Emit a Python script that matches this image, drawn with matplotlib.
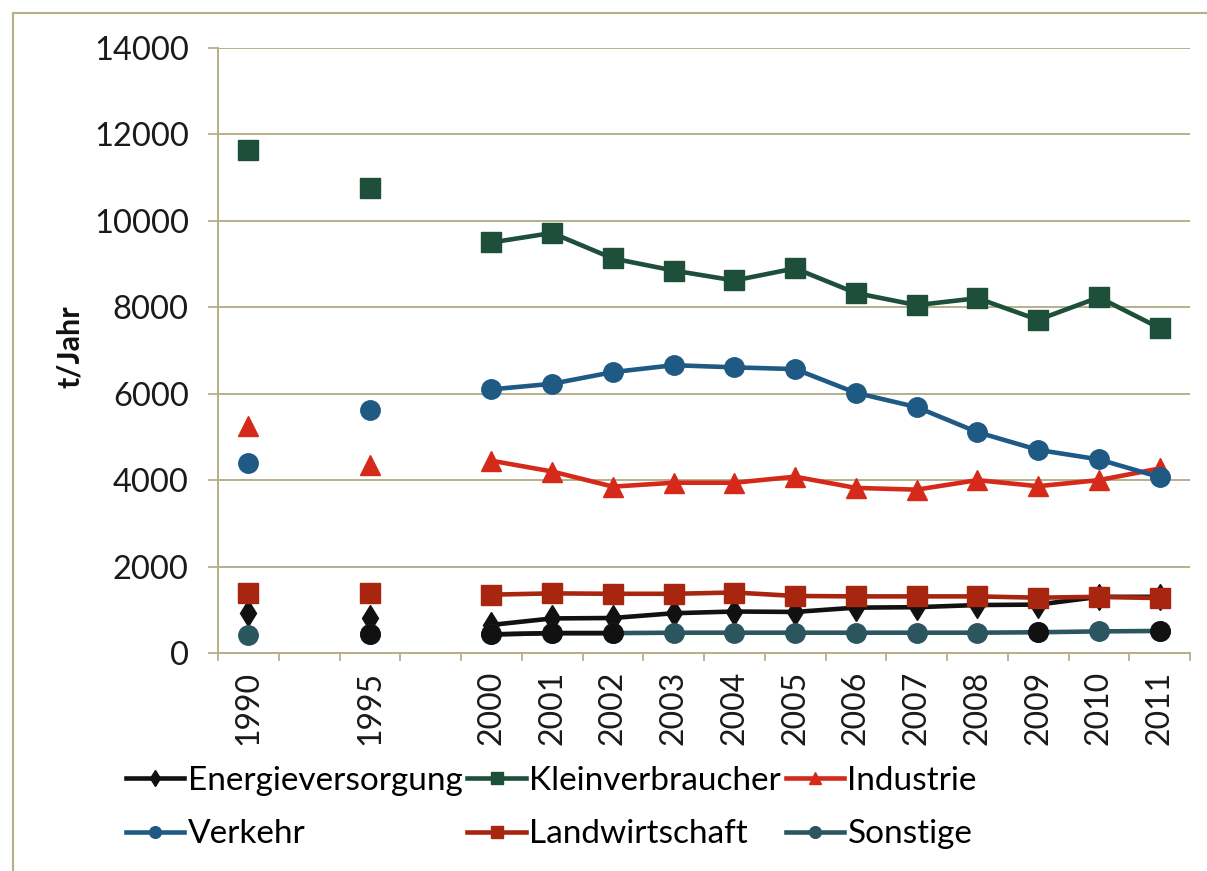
import matplotlib
matplotlib.use('Agg')
import matplotlib.pyplot as plt
import numpy as np
from matplotlib.patches import Rectangle

nan = np.nan

# categories (blank slots keep the gaps between 1990, 1995 and 2000)
years = ['1990', '', '1995', '', '2000', '2001', '2002', '2003', '2004',
         '2005', '2006', '2007', '2008', '2009', '2010', '2011']

energie = [920, nan, 820, nan, 650, 800, 810, 920, 960, 950, 1050, 1060, 1110, 1120, 1300, 1300]
kleinverbraucher = [11650, nan, 10750, nan, 9500, 9720, 9130, 8850, 8620, 8900, 8330, 8050, 8210, 7710, 8230, 7520]
industrie = [5250, nan, 4350, nan, 4450, 4200, 3850, 3940, 3940, 4080, 3820, 3780, 4000, 3860, 4000, 4270]
verkehr = [4400, nan, 5620, nan, 6100, 6230, 6500, 6660, 6610, 6570, 6020, 5690, 5110, 4700, 4480, 4070]
landwirtschaft = [1400, nan, 1400, nan, 1350, 1380, 1370, 1370, 1400, 1320, 1310, 1310, 1310, 1280, 1300, 1270]
sonstige = [410, nan, 430, nan, 430, 460, 460, 470, 470, 470, 470, 470, 470, 480, 500, 510]
# points of Sonstige that show up black in the original
sonstige_dark = [nan, nan, 430, nan, 430, 460, 460, nan, nan, nan, nan, nan, nan, 480, nan, 510]

plt.rcParams['font.family'] = ['Lato', 'DejaVu Sans']

olive = '#b5b08a'

fig = plt.figure(figsize=(12.07, 8.71), dpi=100)
ax = fig.add_axes([218 / 1207, 1 - 653 / 871, (1190 - 218) / 1207, (653 - 48) / 871])

x = np.arange(len(years))

series = [
    ('Energieversorgung', energie, '#111111', 'd', 13),
    ('Kleinverbraucher', kleinverbraucher, '#1d4f3b', 's', 14),
    ('Industrie', industrie, '#d52a1a', '^', 14),
    ('Verkehr', verkehr, '#1f5a84', 'o', 14),
    ('Landwirtschaft', landwirtschaft, '#a8250f', 's', 14),
    ('Sonstige', sonstige, '#2b5660', 'o', 14),
]

handles = {}
for name, vals, col, mk, ms in series:
    h, = ax.plot(x, vals, color=col, lw=3.3, marker=mk, markersize=ms,
                 markeredgecolor=col, label=name)
    handles[name] = h

ax.plot(x, sonstige_dark, color='#111111', lw=3.3, marker='o', markersize=14)

ax.set_xlim(-0.5, len(years) - 0.5)
ax.set_ylim(0, 14000)
ax.set_yticks(range(0, 14001, 2000))
ax.set_yticklabels([str(v) for v in range(0, 14001, 2000)])
ax.set_xticks(x)
ax.set_xticklabels(years, rotation=90)
ax.set_xticks(np.arange(-0.5, len(years), 1), minor=True)

ax.tick_params(axis='y', labelsize=23.5, length=7, color=olive, width=1.3, pad=14, labelcolor='#1a1a1a')
ax.tick_params(axis='x', which='major', labelsize=23, length=0, pad=13, labelcolor='#1a1a1a')
ax.tick_params(axis='x', which='minor', length=6, color=olive, width=1.3)

ax.grid(True, axis='y', color=olive, lw=1.4)
ax.set_axisbelow(True)
for s in ['top', 'right']:
    ax.spines[s].set_visible(False)
for s in ['left', 'bottom']:
    ax.spines[s].set_color(olive)
    ax.spines[s].set_linewidth(1.4)

fig.text(70 / 1207, 1 - 347 / 871, 't/Jahr', rotation=90, ha='center', va='center',
         fontsize=22, fontweight='bold', color='#111111')

# chart area border (cut off at the right and bottom in the scan)
fig.patches.append(Rectangle((13 / 1207, -0.05), 1.2, 1 - 13 / 871 + 0.05,
                             transform=fig.transFigure, fill=False,
                             edgecolor=olive, lw=1.5))

order = ['Energieversorgung', 'Verkehr', 'Kleinverbraucher', 'Landwirtschaft',
         'Industrie', 'Sonstige']
fig.legend([handles[n] for n in order], order, loc='upper left',
           bbox_to_anchor=(126 / 1207, 1 - 766 / 871), ncol=3, frameon=False,
           fontsize=24, handlelength=1.75, handletextpad=0.1, columnspacing=0.15,
           labelspacing=0.7, markerscale=0.6, borderaxespad=0, borderpad=0)

fig.savefig('out.png', dpi=100, facecolor='white')
